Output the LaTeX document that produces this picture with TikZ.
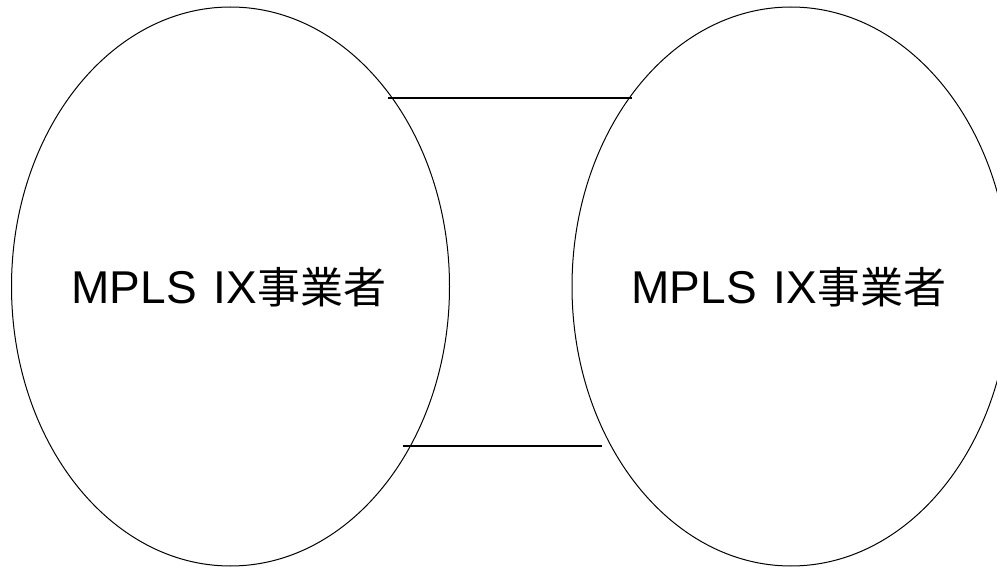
\documentclass[tikz,border=0pt]{standalone}
\usepackage{fontspec}
\setmainfont{Noto Sans CJK JP}
\newfontfamily\latinfont{Liberation Sans}
\usetikzlibrary{shapes.geometric}
\newcommand{\orgtext}{{\fontsize{46}{50}\latinfont MPLS\kern17pt IX}{\fontsize{43}{50}\selectfont 事業者}}
\begin{document}
\begin{tikzpicture}[x=1pt,y=-1pt,
  org/.style={ellipse,draw=black,line width=1pt,inner sep=0pt,
    minimum width=438pt,minimum height=559pt},
  orglabel/.style={inner sep=0pt,anchor=base},
  link/.style={draw=black,line width=1.3pt}]
\useasboundingbox (0,0) rectangle (997,567);
\node[org] (A) at (230.5,286.5) {};
\node[org] (B) at (791,286.5) {};
\node[orglabel] (ta) at (229,303) {\orgtext};
\node[orglabel] (tb) at (789,303) {\orgtext};
\coordinate (a1) at (388,98);
\coordinate (b1) at (632,98);
\coordinate (a2) at (403,446);
\coordinate (b2) at (602,446);
\draw[link] (a1) -- (b1);
\draw[link] (a2) -- (b2);
\end{tikzpicture}
\end{document}
